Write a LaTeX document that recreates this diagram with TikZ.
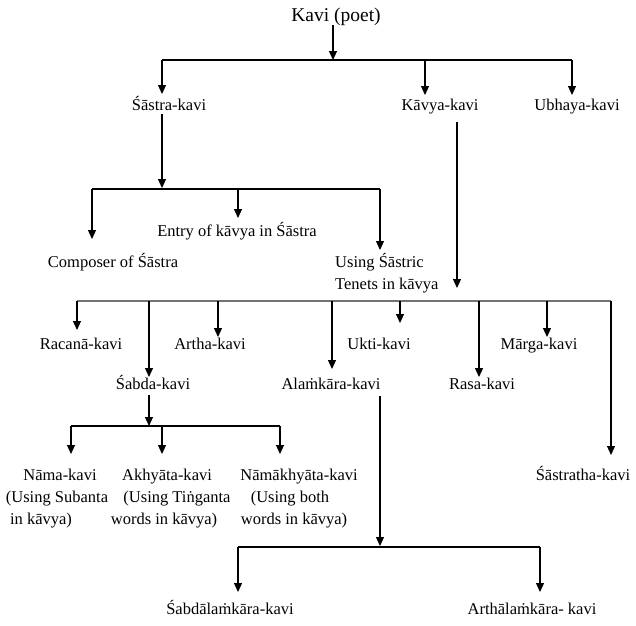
\documentclass[tikz,border=0pt]{standalone}
\usepackage{fontspec}
\setmainfont{Liberation Serif}
\usetikzlibrary{arrows.meta}
\begin{document}
\begin{tikzpicture}[x=1pt,y=-1pt,
  lbl/.style={inner sep=0pt,anchor=base,font=\fontsize{16.5}{20}\selectfont},
  lbll/.style={lbl,anchor=base west},
  ttl/.style={inner sep=0pt,anchor=base,font=\fontsize{19.5}{23}\selectfont},
  conn/.style={line width=1.2pt,black},
  arr/.style={conn,-{Triangle[length=9pt,width=8pt]}},
  grayconn/.style={line width=1.2pt,black!55}]
\useasboundingbox (0,0) rectangle (636,625);
% texts
\node[ttl] (kavi) at (336,21) {Kavi (poet)};
\node[lbl] (sastra) at (169,110) {Śāstra-kavi};
\node[lbl] (kavya) at (440,110) {Kāvya-kavi};
\node[lbl] (ubhaya) at (577,110) {Ubhaya-kavi};
\node[lbl] (entry) at (237,236) {Entry of kāvya in Śāstra};
\node[lbl] (composer) at (113,267) {Composer of Śāstra};
\node[lbll] (using1) at (335,267) {Using Śāstric};
\node[lbll] (using2) at (335,289) {Tenets in kāvya};
\node[lbl] (racana) at (81,349) {Racanā-kavi};
\node[lbl] (artha) at (210,349) {Artha-kavi};
\node[lbl] (ukti) at (379,349) {Ukti-kavi};
\node[lbl] (marga) at (539,349) {Mārga-kavi};
\node[lbl] (sabda) at (153,389) {Śabda-kavi};
\node[lbl] (alam) at (331,389) {Alaṁkāra-kavi};
\node[lbl] (rasa) at (482,389) {Rasa-kavi};
\node[lbl] (sastratha) at (583,480) {Śāstratha-kavi};
\node[lbl] (nama1) at (60,480) {Nāma-kavi};
\node[lbl] (nama2) at (57,502) {(Using Subanta};
\node[lbl] (nama3) at (41,524) {in kāvya)};
\node[lbl] (akh1) at (167,480) {Akhyāta-kavi};
\node[lbl] (akh2) at (177,502) {(Using Tiṅganta};
\node[lbl] (akh3) at (164,524) {words in kāvya)};
\node[lbl] (nk1) at (299,480) {Nāmākhyāta-kavi};
\node[lbl] (nk2) at (290,502) {(Using both};
\node[lbl] (nk3) at (294,524) {words in kāvya)};
\node[lbl] (sabdalam) at (230,614) {Śabdālaṁkāra-kavi};
\node[lbl] (arthalam) at (532,614) {Arthālaṁkāra- kavi};
% coordinates
\coordinate (k0) at (333,25);
\coordinate (k1) at (333,60);
\coordinate (b1l) at (162,60);
\coordinate (b1m) at (425,60);
\coordinate (b1r) at (572,60);
\coordinate (t-sastra) at (162,94);
\coordinate (t-kavya) at (425,95);
\coordinate (t-ubhaya) at (572,95);
\coordinate (s0) at (162,114);
\coordinate (s1) at (162,188);
\coordinate (b2l) at (92,189);
\coordinate (b2m) at (238,189);
\coordinate (b2r) at (380,189);
\coordinate (t-composer) at (92,239);
\coordinate (t-entry) at (238,218);
\coordinate (t-using) at (380,250);
\coordinate (kv0) at (457,122);
\coordinate (kv1) at (457,288);
\coordinate (b3l) at (77,301);
\coordinate (b3r) at (611,301);
\coordinate (t-racana) at (77,330);
\coordinate (t-sabda) at (149,377);
\coordinate (t-artha) at (218,337);
\coordinate (t-alam) at (332,369);
\coordinate (t-ukti) at (400,323);
\coordinate (t-rasa) at (479,377);
\coordinate (t-marga) at (547,337);
\coordinate (t-sastratha) at (611,455);
\coordinate (sb0) at (149,395);
\coordinate (sb1) at (149,426);
\coordinate (b4l) at (71,426);
\coordinate (b4m) at (162,426);
\coordinate (b4r) at (280,426);
\coordinate (t-nama) at (71,454);
\coordinate (t-akh) at (162,454);
\coordinate (t-nk) at (280,454);
\coordinate (al0) at (380,396);
\coordinate (al1) at (380,546);
\coordinate (b5l) at (238,547);
\coordinate (b5r) at (540,547);
\coordinate (t-sabdalam) at (238,592);
\coordinate (t-arthalam) at (540,592);
% connectors
\draw[arr] (k0) -- (k1);
\draw[conn] (b1l) -- (b1r);
\draw[arr] (b1l) -- (t-sastra);
\draw[arr] (b1m) -- (t-kavya);
\draw[arr] (b1r) -- (t-ubhaya);
\draw[arr] (s0) -- (s1);
\draw[conn] (b2l) -- (b2r);
\draw[arr] (b2l) -- (t-composer);
\draw[arr] (b2m) -- (t-entry);
\draw[arr] (b2r) -- (t-using);
\draw[arr] (kv0) -- (kv1);
\draw[grayconn] (b3l) -- (b3r);
\draw[arr] (b3l) -- (t-racana);
\draw[arr] (t-sabda |- b3l) -- (t-sabda);
\draw[arr] (t-artha |- b3l) -- (t-artha);
\draw[arr] (t-alam |- b3l) -- (t-alam);
\draw[arr] (t-ukti |- b3l) -- (t-ukti);
\draw[arr] (t-rasa |- b3l) -- (t-rasa);
\draw[arr] (t-marga |- b3l) -- (t-marga);
\draw[arr] (b3r) -- (t-sastratha);
\draw[arr] (sb0) -- (sb1);
\draw[conn] (b4l) -- (b4r);
\draw[arr] (b4l) -- (t-nama);
\draw[arr] (b4m) -- (t-akh);
\draw[arr] (b4r) -- (t-nk);
\draw[arr] (al0) -- (al1);
\draw[conn] (b5l) -- (b5r);
\draw[arr] (b5l) -- (t-sabdalam);
\draw[arr] (b5r) -- (t-arthalam);
\end{tikzpicture}
\end{document}
